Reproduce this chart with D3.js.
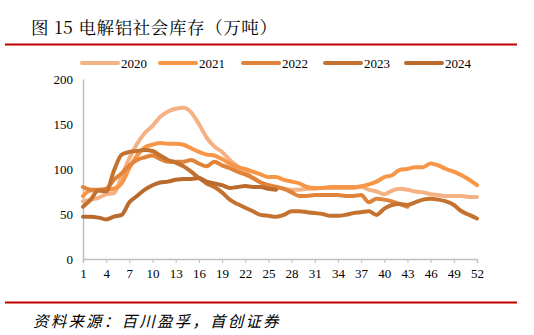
<!DOCTYPE html>
<html><head><meta charset="utf-8">
<script src="https://cdn.jsdelivr.net/npm/d3@7"></script>
<style>
html,body{margin:0;padding:0;background:#fff;}
svg{display:block;}
</style></head>
<body>
<svg id="chart" width="534" height="335"></svg>
<script>
const years = ["2020","2021","2022","2023","2024"];
const colors = ["#F4B183","#F79646","#DF843A","#C4722F","#BA6A2C"];
const weekTicks = [1,4,7,10,13,16,19,22,25,28,31,34,37,40,43,46,49,52];
const yTicks = [0,50,100,150,200];

const s2020 = [64,66,68,72,73,92,112,128,140,148,158,164,167,168,163,150,135,125,119,110,103,97,90,85,82,80,78,77,77,78,78,79,79,79,79,79,80,77,75,72,76,78,77,75,74,72,71,70,70,70,69,69];
const s2021 = [70,76,76,77,78,84,101,115,124,127,129,128,128,127,123,119,116,115,111,106,102,100,97,94,91,91,88,86,84,80,79,79,80,80,80,80,81,83,86,91,93,99,100,102,102,106,104,100,97,93,88,82];
const s2022 = [80,77,77,78,88,95,104,110,113,115,111,108,108,108,110,106,103,108,104,101,97,94,90,85,82,80,78,74,70,70,71,71,71,71,70,70,71,63,67,66,64,61,58];
const s2023 = [58,66,76,75,98,116,119,120,121,120,115,110,107,103,97,90,84,80,74,66,61,57,53,49,48,47,49,53,53,52,51,50,48,48,49,51,52,53,49,56,60,61,60,63,66,67,66,64,60,53,49,45];
const s2024 = [47,47,46,44,47,49,63,70,77,82,85,86,88,89,89,90,86,84,82,79,80,81,80,80,78,77];
const series = [s2020,s2021,s2022,s2023,s2024];

const svg = d3.select("#chart");
svg.append("rect").attr("width",534).attr("height",335).attr("fill","#fff");

// title and rules
svg.append("text").attr("x",31).attr("y",34)
  .attr("font-family","'Noto Serif CJK SC','Noto Sans CJK SC',serif")
  .attr("font-size",17.5).attr("letter-spacing",0.6).attr("fill","#000").text("图 15 电解铝社会库存（万吨）");
svg.append("line").attr("x1",5).attr("x2",517).attr("y1",44.5).attr("y2",44.5)
  .attr("stroke","#C00000").attr("stroke-width",2);
svg.append("line").attr("x1",5).attr("x2",517).attr("y1",302.5).attr("y2",302.5)
  .attr("stroke","#C00000").attr("stroke-width",2);
svg.append("text").attr("x",33).attr("y",327)
  .attr("font-family","'Noto Sans CJK SC',sans-serif").attr("font-style","italic")
  .attr("font-size",15.5).attr("letter-spacing",2.2).attr("fill","#000").text("资料来源：百川盈孚，首创证券");

const x = d3.scaleLinear().domain([1,52]).range([83,477]);
const y = d3.scaleLinear().domain([0,200]).range([259,79]);

// axes
const xAxis = d3.axisBottom(x).tickValues(weekTicks).tickSize(4).tickFormat(d3.format("d"));
const gx = svg.append("g").attr("transform","translate(0,259)").call(xAxis);
gx.select(".domain").attr("stroke","#BFBFBF").attr("stroke-width",1.5);
gx.selectAll(".tick line").attr("stroke","#BFBFBF");
gx.selectAll("text").attr("font-family","'Liberation Serif','Times New Roman',serif")
  .attr("font-size",13).attr("fill","#000").attr("dy","0.9em");

const yAxis = d3.axisLeft(y).tickValues(yTicks).tickSize(0).tickPadding(10);
const gy = svg.append("g").attr("transform","translate(83,0)").call(yAxis);
gy.select(".domain").attr("stroke","#BFBFBF").attr("stroke-width",1.5);
gy.selectAll("text").attr("font-family","'Liberation Serif','Times New Roman',serif")
  .attr("font-size",13).attr("fill","#000");

// lines
const line = d3.line().x((d,i)=>x(i+1)).y(d=>y(d)).curve(d3.curveMonotoneX);
series.forEach((s,k)=>{
  svg.append("path").datum(s).attr("d",line).attr("fill","none")
    .attr("stroke",colors[k]).attr("stroke-width",4)
    .attr("stroke-linejoin","round").attr("stroke-linecap","round");
});

// legend
const legX = [80,158,241,323,404];
years.forEach((yr,k)=>{
  svg.append("line").attr("x1",legX[k]+2).attr("x2",legX[k]+38).attr("y1",63).attr("y2",63)
    .attr("stroke",colors[k]).attr("stroke-width",4).attr("stroke-linecap","round");
  svg.append("text").attr("x",legX[k]+41).attr("y",67.5)
    .attr("font-family","'Liberation Serif','Times New Roman',serif")
    .attr("font-size",13).attr("fill","#000").text(yr);
});
</script>
</body></html>
